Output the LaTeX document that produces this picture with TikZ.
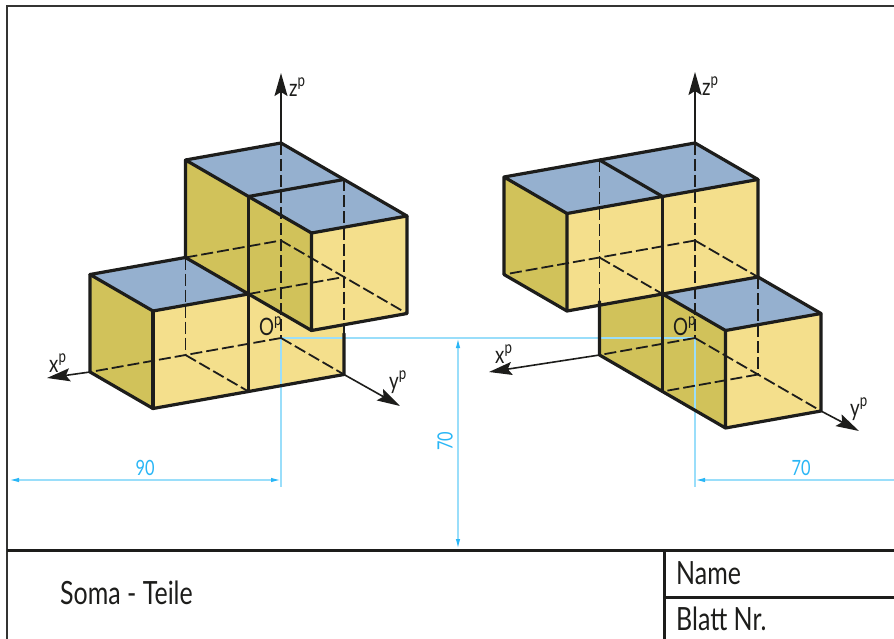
\documentclass[tikz,border=0pt]{standalone}
\usepackage{fontspec}
\setmainfont[FakeStretch=0.78]{Lato}
\usetikzlibrary{arrows.meta}
\definecolor{topc}{HTML}{95B0CF}
\definecolor{frontc}{HTML}{F4DF8C}
\definecolor{sidec}{HTML}{D1C25A}
\definecolor{ink}{HTML}{1D1D1B}
\definecolor{dimc}{HTML}{29B6F6}
\definecolor{dimlc}{HTML}{9ADEFA}
\tikzset{
  top/.style={fill=topc,draw=none},
  front/.style={fill=frontc,draw=none},
  side/.style={fill=sidec,draw=none},
  edge/.style={draw=ink,line width=3.2pt,line join=round,line cap=round},
  hid/.style={draw=ink,line width=1.8pt,dash pattern=on 12pt off 4pt},
  axis/.style={draw=ink,line width=1.6pt,-{Stealth[length=23pt,width=13pt,inset=4pt]}},
  dimline/.style={draw=dimlc,line width=1.5pt},
  dimarrow/.style={draw=dimlc,line width=1.5pt,{Latex[length=10pt,width=4.5pt,color=dimc]}-{Latex[length=10pt,width=4.5pt,color=dimc]}},
  dimtext/.style={text=dimc,font=\fontsize{21}{21}\selectfont,inner sep=0pt},
  frameline/.style={draw=ink!90,line width=1.6pt},
  titleline/.style={draw=ink,line width=3pt},
  titletext/.style={text=ink,font=\fontsize{32}{32}\selectfont,anchor=base west,inner sep=0pt},
  axlabel/.style={text=ink,font=\fontsize{24}{24}\selectfont,anchor=base west,inner sep=0pt},
  left piece/.style={shift={(281,338)},x={(-95.5pt,-17pt)},y={(63pt,-36.5pt)},z={(0pt,97.5pt)}},
  right piece/.style={shift={(695,338)},x={(-95.5pt,-17pt)},y={(63pt,-36.5pt)},z={(0pt,97.5pt)}},
}
\newcommand{\axl}[1]{#1\raisebox{10pt}{\fontsize{17}{17}\selectfont p}}
\begin{document}
\begin{tikzpicture}[x=1pt,y=-1pt]
\useasboundingbox (0,0) rectangle (894,639);
\fill[white] (0,0) rectangle (894,639);

% ---------- left piece, faces
\begin{scope}[left piece]
\path[side] (2,0,0)--(2,1,0)--(2,1,1)--(2,0,1)--cycle;
\path[front] (2,1,0)--(0,1,0)--(0,1,1)--(2,1,1)--cycle;
\path[top] (2,0,1)--(2,1,1)--(1,1,1)--(1,0,1)--cycle;
\path[side] (1,0,1)--(1,2,1)--(1,2,2)--(1,0,2)--cycle;
\path[front] (1,2,1)--(0,2,1)--(0,2,2)--(1,2,2)--cycle;
\path[top] (1,0,2)--(1,2,2)--(0,2,2)--(0,0,2)--cycle;
\coordinate (LO) at (0,0,0);
\coordinate (LZtop) at (0,0,2);
\coordinate (LXend) at (2,0,0);
\coordinate (LYend) at (0,1,0);
\end{scope}

% ---------- right piece, faces
\begin{scope}[right piece]
\path[side] (1,0,0)--(1,2,0)--(1,2,1)--(1,0,1)--cycle;
\path[front] (1,2,0)--(0,2,0)--(0,2,1)--(1,2,1)--cycle;
\path[top] (1,1,1)--(1,2,1)--(0,2,1)--(0,1,1)--cycle;
\path[side] (2,0,1)--(2,1,1)--(2,1,2)--(2,0,2)--cycle;
\path[front] (2,1,1)--(0,1,1)--(0,1,2)--(2,1,2)--cycle;
\path[top] (2,0,2)--(2,1,2)--(0,1,2)--(0,0,2)--cycle;
\coordinate (RO) at (0,0,0);
\coordinate (RZtop) at (0,0,2);
\coordinate (RXend) at (1,0,0);
\coordinate (RYend) at (0,2,0);
\end{scope}

% ---------- dimensioning
\coordinate (LExt) at (281,487);
\coordinate (RExt) at (695,487);
\coordinate (D90a) at (9,480);
\coordinate (D90b) at (281,480);
\coordinate (D70a) at (695,480);
\coordinate (D70b) at (894,480);
\coordinate (DVa) at (458,338);
\coordinate (DVb) at (458,549);
\draw[dimline] (LO)--(RO);
\draw[dimline] (LO)--(LExt);
\draw[dimline] (RO)--(RExt);
\draw[dimarrow] (D90a)--(D90b);
\draw[dimline,{Latex[length=10pt,width=4.5pt,color=dimc]}-] (D70a)--(D70b);
\draw[dimarrow] (DVa)--(DVb);
\node[dimtext] (t90) at (145,468) {90};
\node[dimtext] (t70h) at (801,468) {70};
\node[dimtext,rotate=90] (t70v) at (445,441) {70};

% ---------- left piece, lines
\begin{scope}[left piece]
\draw[hid] (0,0,2)--(0,0,0);
\draw[hid] (1,0,1)--(0,0,1)--(0,2,1);
\draw[hid] (1,1,1)--(0,1,1);
\draw[hid] (0,1,2)--(0,1,0.42);
\draw[hid] (1,0,1)--(1,0,0);
\draw[hid] (0,0,0)--(2,0,0);
\draw[hid] (0,0,0)--(0,1,0);
\draw[hid] (1,0,0)--(1,1,0);
\draw[edge] (1,0,1)--(1,0,2)--(0,0,2)--(0,2,2)--(1,2,2)--(1,0,2);
\draw[edge] (1,1,2)--(0,1,2);
\draw[edge] (1,1,2)--(1,1,0);
\draw[edge] (1,2,2)--(1,2,1)--(0,2,1)--(0,2,2);
\draw[edge] (1,1,1)--(1,2,1);
\draw[edge] (2,0,1)--(2,1,1)--(1,1,1)--(1,0,1)--cycle;
\draw[edge] (2,1,1)--(2,1,0);
\draw[edge] (2,0,1)--(2,0,0)--(2,1,0)--(0,1,0)--(0,1,0.42);
\end{scope}

% ---------- right piece, lines
\begin{scope}[right piece]
\draw[hid] (0,0,2)--(0,0,0);
\draw[hid] (1,0,2)--(1,0,0.55);
\draw[hid] (0,0,1)--(2,0,1);
\draw[hid] (0,0,1)--(0,1,1);
\draw[hid] (1,0,1)--(1,1,1);
\draw[hid] (0,1,1)--(0,1,0);
\draw[hid] (0,0,0)--(0,2,0);
\draw[hid] (0,1,0)--(1,1,0);
\draw[hid] (0,0,0)--(1,0,0);
\draw[edge] (2,0,1)--(2,0,2)--(0,0,2)--(0,1,2)--(2,1,2)--(2,0,2);
\draw[edge] (2,0,1)--(2,1,1);
\draw[edge] (1,0,2)--(1,1,2);
\draw[edge] (2,1,2)--(2,1,1)--(0,1,1)--(0,1,2);
\draw[edge] (1,1,2)--(1,1,0);
\draw[edge] (1,0,0.55)--(1,0,0)--(1,2,0)--(0,2,0)--(0,2,1)--(1,2,1)--(1,2,0);
\draw[edge] (1,1,1)--(1,2,1);
\draw[edge] (0,1,1)--(0,2,1);
\end{scope}

% ---------- axes
\coordinate (LXtip) at (47,378);
\coordinate (LYtip) at (400,406);
\coordinate (LZtip) at (281,73);
\coordinate (RXtip) at (489,372);
\coordinate (RYtip) at (859,431);
\coordinate (RZtip) at (695,72);
\draw[axis] (LZtop)--(LZtip);
\draw[axis] (LXend)--(LXtip);
\draw[axis] (LYend)--(LYtip);
\draw[axis] (RZtop)--(RZtip);
\draw[axis] (RXend)--(RXtip);
\draw[axis] (RYend)--(RYtip);
\node[axlabel] (lz) at (289,97) {\axl{z}};
\node[axlabel] (lx) at (49,372) {\axl{x}};
\node[axlabel] (ly) at (389,389) {\axl{y}};
\node[axlabel] (lo) at (259,335) {\axl{O}};
\node[axlabel] (rz) at (702,96) {\axl{z}};
\node[axlabel] (rx) at (495,363) {\axl{x}};
\node[axlabel] (ry) at (850,416) {\axl{y}};
\node[axlabel] (ro) at (673,335) {\axl{O}};

% ---------- frame and title block
\draw[frameline] (894,6)--(7,6)--(7,639);
\draw[titleline] (7,550)--(894,550);
\draw[titleline] (664,550)--(664,639);
\draw[titleline] (664,597)--(894,597);
\node[titletext] (soma) at (60,604) {Soma - Teile};
\node[titletext] (name) at (676,584) {Name};
\node[titletext] (blatt) at (676,630) {Blatt Nr.};
\end{tikzpicture}
\end{document}
